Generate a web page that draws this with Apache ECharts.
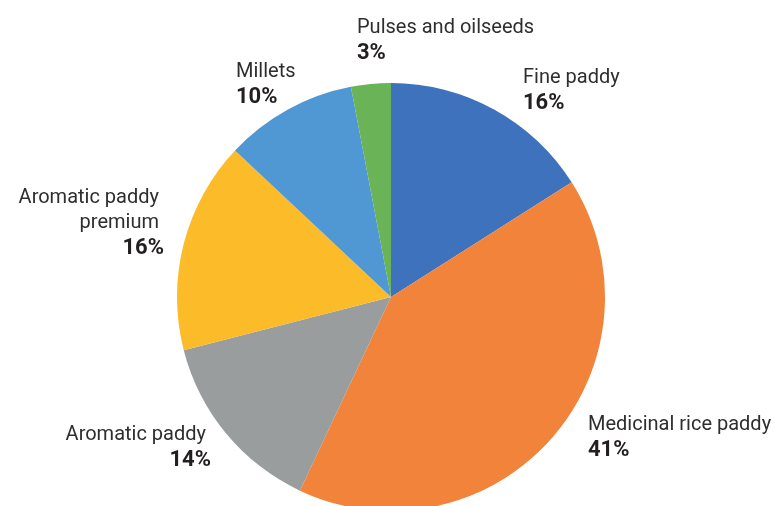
<!DOCTYPE html>
<html>
<head>
<meta charset="utf-8">
<script src="https://cdn.jsdelivr.net/npm/echarts@6/dist/echarts.min.js"></script>
<style>
  html, body { margin: 0; padding: 0; background: #ffffff; }
  #chart { width: 775px; height: 506px; }
</style>
</head>
<body>
<div id="chart"></div>
<script>
// Share of cultivated area by crop type, clockwise from 12 o'clock
const categories = ['Fine paddy', 'Medicinal rice paddy', 'Aromatic paddy', 'Aromatic paddy premium', 'Millets', 'Pulses and oilseeds'];
const shares = [16, 41, 14, 16, 10, 3];
const sliceColors = ['#3e72bc', '#f1833b', '#999d9e', '#fcbb28', '#4f98d4', '#6ab356'];

// Label anchor for each slice: [x, y, align]
const labelSpots = {
  'Fine paddy': [523, 65, 'left'],
  'Medicinal rice paddy': [588, 412, 'left'],
  'Aromatic paddy': [211, 422, 'right'],
  'Aromatic paddy premium': [164, 185, 'right'],
  'Millets': [236, 59, 'left'],
  'Pulses and oilseeds': [357, 15, 'left']
};
// Line breaks used in the drawn names
const displayNames = {
  'Aromatic paddy premium': 'Aromatic paddy\npremium'
};

const FONT = '"Liberation Sans Narrow", "Roboto", sans-serif';

const chart = echarts.init(document.getElementById('chart'), null, { renderer: 'canvas' });

chart.setOption({
  backgroundColor: '#ffffff',
  animation: false,
  series: [{
    type: 'pie',
    center: [391, 297],
    radius: 214,
    startAngle: 90,
    clockwise: true,
    avoidLabelOverlap: false,
    itemStyle: { borderWidth: 0 },
    emphasis: { disabled: true },
    label: {
      show: true,
      position: 'outside',
      formatter: p => {
        const style = labelSpots[p.name][2] === 'right' ? 'nr' : 'n';
        const nm = (displayNames[p.name] || p.name).split('\n').map(s => '{' + style + '|' + s + '}').join('\n');
        return nm + '\n{p|' + p.value + '%}';
      },
      rich: {
        n: { fontFamily: FONT, fontSize: 20, color: '#2e2e2e', lineHeight: 25 },
        nr: { fontFamily: FONT, fontSize: 20, color: '#2e2e2e', lineHeight: 25, padding: [0, 5, 0, 0] },
        p: { fontFamily: FONT, fontSize: 22, fontWeight: 'bold', color: '#231f20', lineHeight: 26 }
      }
    },
    labelLine: { show: false },
    labelLayout: params => {
      const name = categories[params.dataIndex];
      const s = labelSpots[name];
      return { x: s[0], y: s[1], align: s[2], verticalAlign: 'top' };
    },
    data: categories.map((c, i) => ({
      name: c,
      value: shares[i],
      itemStyle: { color: sliceColors[i] },
      label: { align: labelSpots[c][2] }
    }))
  }]
});
</script>
</body>
</html>
